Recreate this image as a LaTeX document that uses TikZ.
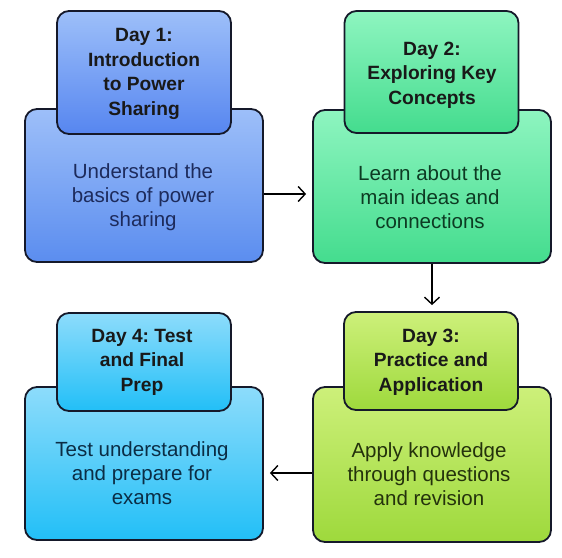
\documentclass[tikz,border=0pt]{standalone}
\usepackage{fontspec}
\setmainfont{Liberation Sans}
\usetikzlibrary{arrows.meta}
\frenchspacing
\definecolor{bAt}{HTML}{9DBFF9}\definecolor{bAb}{HTML}{5B8DEF}
\definecolor{bBt}{HTML}{8EF5C0}\definecolor{bBb}{HTML}{44DC8E}
\definecolor{bCt}{HTML}{CDF07A}\definecolor{bCb}{HTML}{9ED93C}
\definecolor{bDt}{HTML}{8DDCFB}\definecolor{bDb}{HTML}{22BFF7}
\definecolor{tA}{HTML}{1D2B5C}\definecolor{tB}{HTML}{0D3B23}
\definecolor{tC}{HTML}{24320C}\definecolor{tD}{HTML}{0B2D45}
\definecolor{edge}{HTML}{15192A}
\tikzset{
  bigbox/.style={draw=edge, line width=1.8pt, rounded corners=12pt, minimum width=238pt, minimum height=153pt, inner sep=0pt},
  smallbox/.style={draw=edge, line width=1.8pt, rounded corners=12pt, minimum width=174pt, inner sep=0pt},
  bodytext/.style={align=center, font=\fontsize{20.5}{24}\selectfont, inner sep=0pt},
  titletext/.style={align=center, font=\fontsize{19.2}{24.5}\selectfont\bfseries, inner sep=0pt, text=black!90},
  conn/.style={line width=1.4pt, -{Straight Barb[length=7pt,width=15pt]}, shorten >=6pt}
}
\begin{document}
\begin{tikzpicture}[x=1pt,y=-1pt]
\useasboundingbox (0,0) rectangle (562,557);
% Day 1
\node[bigbox, top color=bAt, bottom color=bAb] (b1) at (144,185.5) {};
\node[smallbox, minimum height=123pt, top color=bAt, bottom color=bAb!95!blue] (s1) at (144,72.5) {};
\node[titletext] (h1) at (144,74) {Day 1:\\Introduction\\to Power\\Sharing};
\node[bodytext, text=tA] (t1) at (143,197) {Understand the\\basics of power\\sharing};
% Day 2
\node[bigbox, top color=bBt, bottom color=bBb] (b2) at (432,186.5) {};
\node[smallbox, minimum height=122pt, top color=bBt, bottom color=bBb] (s2) at (431.5,72) {};
\node[titletext] (h2) at (432,75) {Day 2:\\Exploring Key\\Concepts};
\node[bodytext, text=tB] (t2) at (430,197) {Learn about the\\main ideas and\\connections};
% Day 3
\node[bigbox, minimum height=155pt, top color=bCt, bottom color=bCb] (b3) at (432,464.5) {};
\node[smallbox, minimum height=98pt, top color=bCt, bottom color=bCb] (s3) at (431,361) {};
\node[titletext] (h3) at (431,362) {Day 3:\\Practice and\\Application};
\node[bodytext, text=tC] (t3) at (429,474) {Apply knowledge\\through questions\\and revision};
% Day 4
\node[bigbox, top color=bDt, bottom color=bDb] (b4) at (144,463.5) {};
\node[smallbox, minimum height=98pt, top color=bDt, bottom color=bDb] (s4) at (144,362) {};
\node[titletext] (h4) at (142,362) {Day 4: Test\\and Final\\Prep};
\node[bodytext, text=tD] (t4) at (142,473) {Test understanding\\and prepare for\\exams};
% connectors
\draw[conn] (b1.east |- 0,194) -- (b2.west |- 0,194);
\draw[conn] (b2.south -| 432,0) -- (s3.north -| 432,0);
\draw[conn] (b3.west |- 0,473) -- (b4.east |- 0,473);
\end{tikzpicture}
\end{document}
